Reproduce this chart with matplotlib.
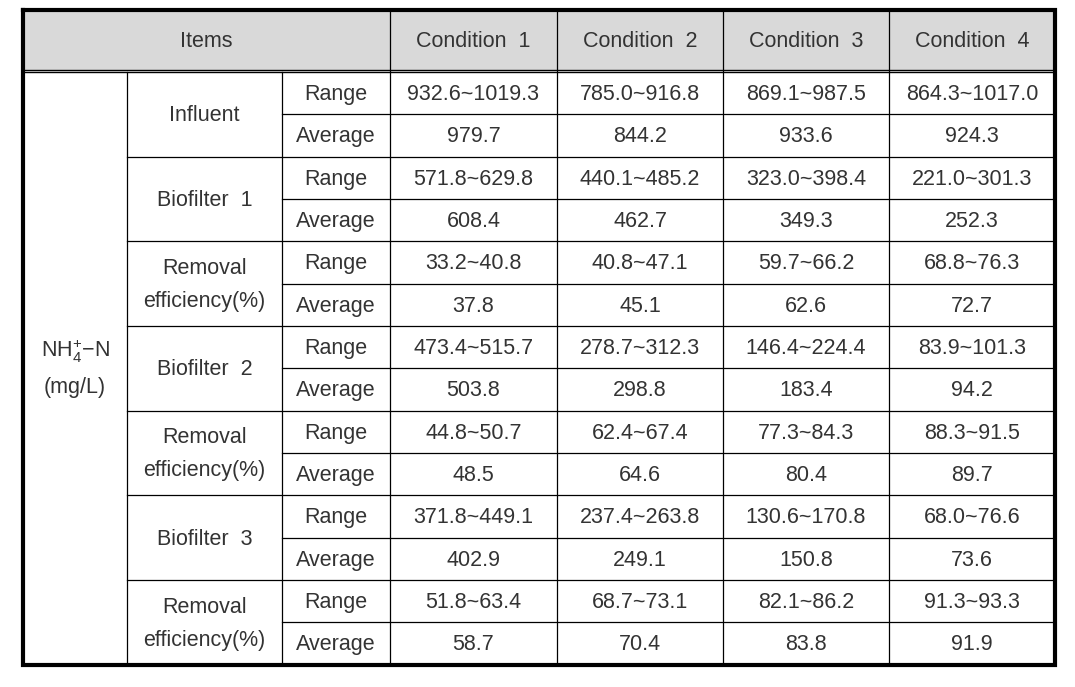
import matplotlib
matplotlib.use("Agg")
import matplotlib.pyplot as plt

plt.rcParams['font.family'] = ['Liberation Sans', 'DejaVu Sans']
plt.rcParams['mathtext.default'] = 'regular'

# table content
conditions = ["Condition  1", "Condition  2", "Condition  3", "Condition  4"]
groups = ["Influent", "Biofilter  1", "Removal\nefficiency(%)",
          "Biofilter  2", "Removal\nefficiency(%)",
          "Biofilter  3", "Removal\nefficiency(%)"]
stat_labels = ["Range", "Average"]

influent_range = ["932.6~1019.3", "785.0~916.8", "869.1~987.5", "864.3~1017.0"]
influent_avg = [979.7, 844.2, 933.6, 924.3]
bf1_range = ["571.8~629.8", "440.1~485.2", "323.0~398.4", "221.0~301.3"]
bf1_avg = [608.4, 462.7, 349.3, 252.3]
re1_range = ["33.2~40.8", "40.8~47.1", "59.7~66.2", "68.8~76.3"]
re1_avg = [37.8, 45.1, 62.6, 72.7]
bf2_range = ["473.4~515.7", "278.7~312.3", "146.4~224.4", "83.9~101.3"]
bf2_avg = [503.8, 298.8, 183.4, 94.2]
re2_range = ["44.8~50.7", "62.4~67.4", "77.3~84.3", "88.3~91.5"]
re2_avg = [48.5, 64.6, 80.4, 89.7]
bf3_range = ["371.8~449.1", "237.4~263.8", "130.6~170.8", "68.0~76.6"]
bf3_avg = [402.9, 249.1, 150.8, 73.6]
re3_range = ["51.8~63.4", "68.7~73.1", "82.1~86.2", "91.3~93.3"]
re3_avg = [58.7, 70.4, 83.8, 91.9]

ranges = [influent_range, bf1_range, re1_range, bf2_range, re2_range, bf3_range, re3_range]
avgs = [influent_avg, bf1_avg, re1_avg, bf2_avg, re2_avg, bf3_avg, re3_avg]

# layout in pixel units
W, H = 1075, 687
x_edges = [23, 127, 282, 390, 557, 723, 889, 1055]
top, head_bot, data_top, bottom = 10, 69.5, 72, 664.5
row_h = (bottom - data_top) / (2 * len(groups))
dy = 1.5  # text sits a touch below the cell centre

txt = dict(ha='center', va='center', fontsize=15.5, color='#333333')
lc = 'black'

fig = plt.figure(figsize=(W / 100, H / 100), dpi=100)
ax = fig.add_axes([0, 0, 1, 1])
ax.set_xlim(0, W)
ax.set_ylim(H, 0)
ax.axis('off')

# header
ax.fill_between([x_edges[0], x_edges[-1]], top, head_bot, color='#d9d9d9', lw=0)
ax.text((x_edges[0] + x_edges[3]) / 2, (top + head_bot) / 2 + dy, "Items", **txt)
for i, c in enumerate(conditions):
    ax.text((x_edges[3 + i] + x_edges[4 + i]) / 2, (top + head_bot) / 2 + dy, c, **txt)

# double line under header
ax.plot([x_edges[0], x_edges[-1]], [head_bot, head_bot], color=lc, lw=1)
ax.plot([x_edges[0], x_edges[-1]], [data_top, data_top], color=lc, lw=1)

# body
for g, name in enumerate(groups):
    y0 = data_top + 2 * g * row_h
    yc = y0 + row_h
    ax.text((x_edges[1] + x_edges[2]) / 2, yc + dy, name, linespacing=1.75, **txt)
    for s, lab in enumerate(stat_labels):
        ys = y0 + (s + 0.5) * row_h + dy
        ax.text((x_edges[2] + x_edges[3]) / 2, ys, lab, **txt)
        vals = ranges[g] if s == 0 else ["%.1f" % v for v in avgs[g]]
        for i, v in enumerate(vals):
            ax.text((x_edges[3 + i] + x_edges[4 + i]) / 2, ys, v, **txt)
    # line between Range and Average
    ax.plot([x_edges[2], x_edges[-1]], [y0 + row_h, y0 + row_h], color=lc, lw=0.9)
    if g > 0:
        ax.plot([x_edges[1], x_edges[-1]], [y0, y0], color=lc, lw=0.9)

# first column label
mid = (data_top + bottom) / 2
ax.text((x_edges[0] + x_edges[1]) / 2, mid - 17, r"NH$_{4}^{+}$$-$N", **txt)
ax.text((x_edges[0] + x_edges[1]) / 2, mid + 19, "(mg/L)", **txt)

# vertical lines
for x in x_edges[1:3]:
    ax.plot([x, x], [data_top, bottom], color=lc, lw=0.9)
for x in x_edges[3:-1]:
    ax.plot([x, x], [top, bottom], color=lc, lw=0.9)

# outer border
ax.plot([x_edges[0], x_edges[-1], x_edges[-1], x_edges[0], x_edges[0]],
        [top, top, bottom, bottom, top], color=lc, lw=3, solid_joinstyle='miter')

fig.savefig("out.png", dpi=100)
